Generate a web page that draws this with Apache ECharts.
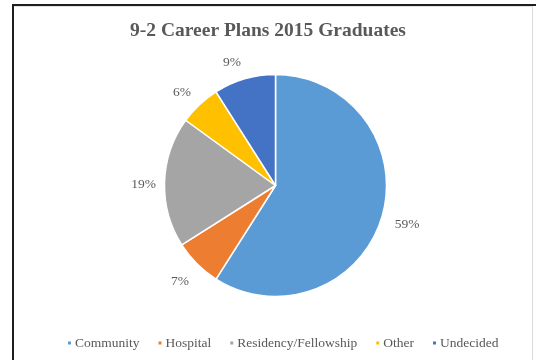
<!DOCTYPE html>
<html>
<head>
<meta charset="utf-8">
<script src="https://cdn.jsdelivr.net/npm/echarts@6/dist/echarts.min.js"></script>
<style>
html,body{margin:0;padding:0;background:#fff;}
#wrap{position:relative;width:536px;height:360px;overflow:hidden;}
#chart{position:absolute;left:0;top:0;width:536px;height:360px;}
#frame{position:absolute;left:12px;top:4px;width:540px;height:400px;border-top:2px solid #1e1e1e;border-left:2px solid #1e1e1e;pointer-events:none;}
#inner{position:absolute;left:14px;top:6px;width:518px;height:400px;border-right:1px solid #d9d9d9;border-top:1px solid #e4e4e4;pointer-events:none;}
</style>
</head>
<body>
<div id="wrap">
<div id="chart"></div>
<div id="inner"></div>
<div id="frame"></div>
</div>
<script>
var titleText = '9-2 Career Plans 2015 Graduates';
var categories = ['Community', 'Hospital', 'Residency/Fellowship', 'Other', 'Undecided'];
var values = [59, 7, 19, 6, 9];
var colors = ['#5B9BD5', '#ED7D31', '#A5A5A5', '#FFC000', '#4472C4'];
// small nudges of the percentage labels (style only)
var labelNudges = [[-1, 0], [2, -2], [6, 3], [1, 8], [-5, 9]];

var serif = '"Liberation Serif", "Times New Roman", serif';
var pieData = categories.map(function (c, i) {
  return { name: c, value: values[i], itemStyle: { color: colors[i] } };
});
var labelData = categories.map(function (c, i) {
  return { name: c, value: values[i], label: { offset: labelNudges[i] } };
});

var chart = echarts.init(document.getElementById('chart'), null, { renderer: 'canvas' });
chart.setOption({
  animation: false,
  title: {
    text: titleText,
    left: 'center',
    top: 16,
    textStyle: { fontFamily: serif, fontSize: 19.5, fontWeight: 'bold', color: '#595959' }
  },
  legend: {
    data: categories,
    bottom: 5,
    left: 61,
    icon: 'rect',
    itemWidth: 5,
    itemHeight: 5,
    itemGap: 17,
    textStyle: { fontFamily: serif, fontSize: 13.5, color: '#595959', padding: [0, 0, 0, -2] }
  },
  series: [
    {
      type: 'pie',
      center: [275.5, 185.5],
      radius: 111,
      startAngle: 90,
      clockwise: true,
      silent: true,
      label: { show: false },
      labelLine: { show: false },
      itemStyle: { borderColor: '#ffffff', borderWidth: 1.5 },
      data: pieData
    },
    {
      type: 'pie',
      center: [275.5, 185.5],
      radius: [124, 146],
      startAngle: 90,
      clockwise: true,
      silent: true,
      legendHoverLink: false,
      itemStyle: { color: 'rgba(0,0,0,0)' },
      label: {
        show: true,
        position: 'inside',
        formatter: '{c}%',
        fontFamily: serif,
        fontSize: 13.5,
        color: '#595959'
      },
      labelLine: { show: false },
      data: labelData
    }
  ]
});
</script>
</body>
</html>
